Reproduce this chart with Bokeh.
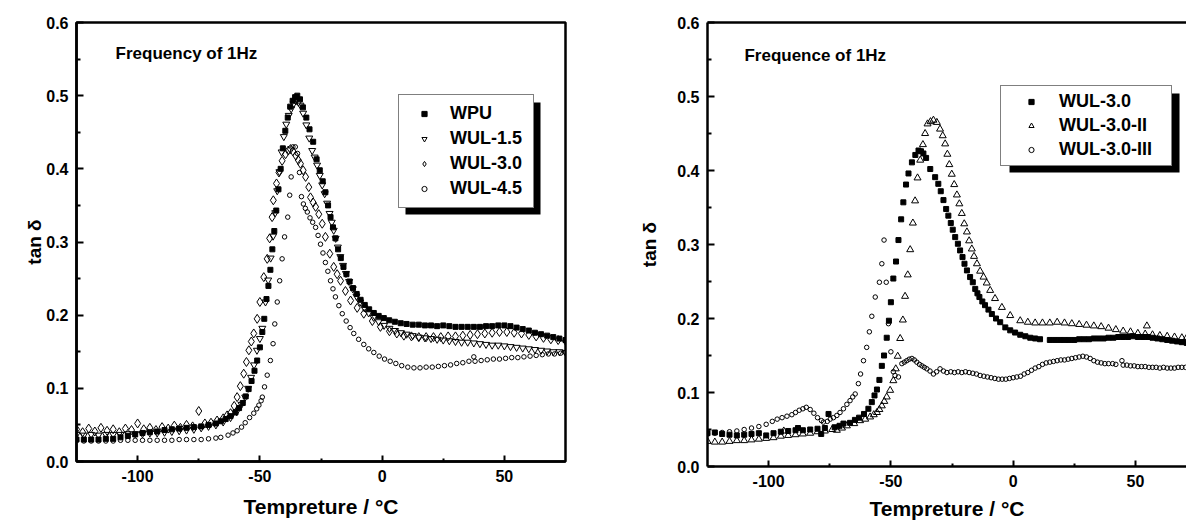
from bokeh.plotting import figure
from bokeh.models import (Range1d, FixedTicker, PrintfTickFormatter, Legend, LegendItem,
                          BoxAnnotation, Label, LinearAxis)
from bokeh.layouts import row, column
from bokeh.embed import file_html
from bokeh.resources import INLINE

FONT = "Liberation Sans"

# ---------------- data (temperature °C, tan delta) ----------------
# left panel
wpu = [(-125,.030),(-122,.030),(-119,.030),(-116,.030),(-113,.031),(-110,.031),(-107,.033),(-104,.035),
       (-101,.037),(-98,.039),(-95,.040),(-92,.041),(-89,.043),(-86,.044),(-83,.045),(-80,.046),(-77,.047),
       (-74,.048),(-71,.050),(-68,.052),(-66,.055),(-64,.058),(-62,.062),(-60,.067),(-58.5,.073),(-57,.080),
       (-55.8,.089),(-54.6,.099),(-53.4,.110),(-52.2,.124),(-51.1,.138),(-50.0,.156),(-49.0,.177),(-48.2,.195),
       (-47.3,.222),(-46.5,.240),(-45.7,.262),(-44.9,.290),(-44.1,.315),(-43.3,.343),(-42.4,.372),(-41.5,.400),
       (-40.6,.428),(-39.6,.452),(-38.6,.470),(-37.6,.485),(-36.6,.493),(-35.6,.498),(-34.7,.500),(-33.6,.495),
       (-32.4,.484),(-31.0,.470),(-29.7,.454),(-28.2,.437),(-26.8,.413),(-25.5,.398),(-24.3,.383),(-23.2,.368),
       (-22.1,.350),(-21.1,.334),(-20.1,.320),(-19.1,.305),(-18.0,.290),(-16.9,.278),(-15.8,.266),(-14.6,.256),
       (-13.3,.246),(-11.9,.237),(-10.4,.229),(-8.8,.221),(-7.1,.214),(-5.3,.208),(-3.4,.203),(-1.4,.199),
       (0.7,.196),(2.9,.193),(5.2,.191),(7.6,.189),(10,.188),(12.5,.187),(15,.187),(17.5,.186),(20,.186),
       (22.5,.185),(25,.186),(27.5,.185),(30,.184),(32.5,.184),(35,.184),(37.5,.184),(40,.184),(42.5,.185),
       (45,.185),(47.5,.186),(50,.186),(52.5,.185),(55,.183),(57.5,.181),(60,.179),(62.5,.176),(65,.174),
       (67.5,.172),(70,.170),(72.5,.168),(75,.166)]

wul15 = [(-125,.037),(-122,.036),(-119,.037),(-116,.036),(-113,.037),(-110,.037),(-107,.037),(-104,.038),
         (-101,.038),(-98,.038),(-95,.039),(-92,.039),(-89,.040),(-86,.041),(-83,.042),(-80,.043),(-77,.044),
         (-74,.046),(-71,.048),(-68,.050),(-65,.054),(-62,.060),(-59.5,.068),(-57.5,.078),(-56,.088),(-54.8,.100),
         (-53.6,.115),(-52.4,.132),(-51.2,.152),(-50.0,.168),(-49.0,.182),(-47.7,.218),(-46.6,.248),(-45.6,.278),
         (-44.6,.308),(-43.7,.340),(-42.9,.370),(-42.0,.396),(-41.1,.423),(-40.2,.444),(-39.2,.461),(-38.2,.473),
         (-37.2,.482),(-36.2,.489),(-35.2,.493),(-34.2,.491),(-33.4,.487),(-32.3,.476),(-31.0,.460),(-29.8,.442),
         (-28.6,.425),(-27.6,.416),(-26.6,.405),(-25.5,.391),(-24.5,.378),(-23.5,.366),(-22.5,.353),(-21.5,.339),
         (-20.6,.327),(-19.8,.316),(-19.0,.305),(-18.1,.293),(-17.1,.280),(-16.0,.268),(-14.8,.257),(-13.5,.246),
         (-12.0,.236),(-10.5,.226),(-9.0,.218),(-7.3,.210),(-5.5,.203),(-3.5,.197),(-1.4,.191),(0.8,.186),
         (3,.182),(5.3,.179),(7.7,.176),(10,.174),(12.5,.172),(15,.170),(17.5,.169),(20,.168),(22.5,.167),
         (25,.166),(27.5,.165),(30,.164),(32.5,.163),(35,.163),(37.5,.162),(40,.161),(42.5,.160),(45,.159),
         (47.5,.159),(50,.158),(52.5,.157),(55,.156),(57.5,.155),(60,.154),(62.5,.153),(65,.152),(67.5,.151),
         (70,.150),(72.5,.150),(75,.149)]

wul30 = [(-125,.044),(-122.5,.040),(-120,.045),(-117.5,.041),(-115,.046),(-112.5,.042),(-110,.044),(-107.5,.040),
         (-105,.045),(-102.5,.043),(-100,.052),(-97.5,.044),(-95,.046),(-92.5,.043),(-90,.047),(-87.5,.045),
         (-85,.049),(-82.5,.046),(-80,.050),(-77.5,.048),(-75,.069),(-72.5,.052),(-70,.053),(-67.5,.056),
         (-65,.059),(-63.4,.063),(-62,.066),(-60.5,.076),(-59.3,.088),(-58,.103),(-56.6,.120),(-55.5,.136),
         (-54.5,.152),(-53.5,.164),(-52.5,.175),(-51.1,.195),(-50,.218),(-48.4,.252),(-47,.277),(-46,.305),
         (-45,.334),(-44.5,.357),(-43.2,.380),(-42.2,.395),(-40.9,.411),(-39.5,.420),(-38.4,.425),(-37.5,.427),
         (-36.5,.424),(-35.3,.418),(-34.3,.412),(-33.4,.407),(-32.3,.398),(-31.3,.389),(-30.0,.375),(-29.3,.361),
         (-28.2,.354),(-27.2,.348),(-25.9,.338),(-24.5,.325),(-23.2,.307),(-21.4,.284),(-19.8,.266),(-18.4,.256),
         (-17.0,.247),(-15.0,.233),(-12.9,.220),(-10.2,.210),(-7.5,.202),(-4.0,.192),(-0.7,.184),(3,.178),
         (6,.175),(8.9,.172),(12,.171),(15,.170),(18,.170),(21,.170),(24,.170),(27,.171),(30,.171),(33,.172),
         (36,.173),(39,.174),(42,.175),(45,.176),(48,.177),(51,.177),(54,.176),(57,.175),(60,.173),(63,.171),
         (66,.169),(69,.167),(72,.166),(75,.165)]

wul45 = [(-125,.029),(-122,.028),(-119,.028),(-116,.028),(-113,.028),(-110,.028),(-107,.029),(-104,.029),
         (-101,.029),(-98,.029),(-95,.029),(-92,.029),(-89,.029),(-86,.029),(-83,.030),(-80,.030),(-77,.030),
         (-74,.030),(-71,.031),(-68,.032),(-66,.033),(-63,.036),(-61,.039),(-59.3,.042),(-57.5,.047),(-56,.053),
         (-54.2,.060),(-52.5,.066),(-51.3,.072),(-50.4,.077),(-49.5,.083),(-49.0,.088),(-48.1,.102),(-47.0,.118),
         (-45.7,.138),(-44.6,.161),(-43.9,.188),(-42.9,.218),(-41.9,.247),(-40.9,.277),(-39.9,.307),(-38.6,.334),
         (-37.8,.364),(-37.2,.389),(-36.5,.430),(-35.5,.430),(-34.6,.421),(-33.8,.395),(-33.0,.362),(-32.2,.352),
         (-31.4,.346),(-30.6,.341),(-29.5,.333),(-28.4,.327),(-27.2,.320),(-26.2,.309),(-25.2,.297),(-24.2,.285),
         (-23.2,.272),(-22.2,.260),(-21.1,.247),(-20.1,.236),(-19.1,.225),(-17.7,.213),(-16.3,.202),(-14.7,.192),
         (-13.1,.183),(-11.6,.175),(-9.6,.167),(-7.5,.160),(-5.5,.154),(-3.4,.149),(-1.2,.144),(1,.140),
         (3.3,.137),(5.6,.134),(8,.131),(10.5,.129),(13,.128),(15.5,.128),(18,.129),(20.5,.129),(23,.130),
         (25.5,.131),(28,.132),(30.5,.134),(33,.135),(35.5,.137),(37.5,.143),(38,.137),(40.5,.138),(43,.139),
         (45.5,.140),(48,.140),(50.5,.141),(53,.142),(55.5,.142),(58,.143),(60.5,.144),(63,.145),(65.5,.146),
         (68,.147),(70.5,.147),(73,.148),(75,.149)]

# right panel
r_wul30 = [(-125,.045),(-122,.046),(-119,.044),(-116,.043),(-113,.042),(-110,.043),(-107,.044),(-104,.045),
           (-101,.042),(-98,.045),(-95,.047),(-92,.048),(-89,.049),(-88,.052),(-86,.049),(-83,.050),(-80,.051),
           (-78.5,.044),(-77,.052),(-75.5,.071),(-73,.053),(-71,.055),(-69.4,.058),(-66.7,.059),(-64.7,.063),
           (-63,.066),(-61,.071),(-59.2,.078),(-57.8,.087),(-56.7,.096),(-55.7,.104),(-54.7,.117),(-53.7,.136),
           (-52.8,.150),(-51.7,.174),(-50.8,.197),(-50.0,.222),(-49.0,.254),(-47.9,.277),(-46.9,.306),(-45.8,.334),
           (-44.9,.357),(-43.8,.381),(-42.8,.396),(-41.4,.411),(-40.0,.421),(-38.7,.427),(-37.7,.426),(-36.7,.423),
           (-35.6,.417),(-33.9,.402),(-31.9,.391),(-30.6,.382),(-29.6,.372),(-28.5,.360),(-27.4,.348),(-26.5,.339),
           (-25.5,.329),(-24.7,.320),(-23.7,.310),(-22.6,.301),(-21.7,.292),(-20.7,.283),(-19.9,.274),(-18.9,.265),
           (-17.6,.256),(-16.5,.249),(-15.5,.240),(-14.6,.234),(-13.8,.229),(-12.6,.223),(-11.5,.218),(-10.1,.212),
           (-8.7,.206),(-7.0,.200),(-5.3,.195),(-3.2,.188),(-1.2,.184),(0.8,.181),(2.9,.178),(5,.176),(7,.174),
           (9,.173),(11,.172),(15,.171),(17,.171),(19,.171),(21,.171),(23,.171),(25,.171),(27,.172),(29,.172),
           (31,.172),(33,.173),(35,.173),(37,.173),(39,.174),(41,.174),(43,.175),(45,.175),(47,.175),(49,.176),
           (51,.175),(53,.175),(55,.175),(57,.174),(59,.173),(61,.172),(63,.171),(65,.170),(67,.169),(69,.168),
           (71,.167)]

r_wul30ii = [(-125,.034),(-122,.033),(-119,.033),(-116,.034),(-113,.035),(-110,.035),(-107,.036),(-104,.037),
             (-101,.038),(-98,.039),(-95,.041),(-93.8,.048),(-92,.042),(-89,.043),(-86,.044),(-83,.045),(-80,.047),
             (-77,.048),(-74,.050),(-72.1,.049),(-70,.052),(-68,.055),(-65,.058),(-62.6,.062),(-60.5,.064),
             (-58.5,.067),(-57,.070),(-55.7,.073),(-54.7,.077),(-53.7,.082),(-52.7,.088),(-51.7,.094),(-50.3,.103),
             (-49.0,.116),(-48.0,.132),(-47.2,.149),(-46.2,.173),(-45.1,.198),(-44.2,.230),(-43.1,.259),(-42.1,.293),
             (-41.0,.329),(-40.1,.359),(-39.1,.390),(-38.0,.414),(-36.9,.435),(-36.0,.450),(-35.0,.463),(-33.8,.466),
             (-32.6,.468),(-31.2,.465),(-29.9,.456),(-28.8,.447),(-27.8,.436),(-26.9,.422),(-26.1,.408),(-25.1,.395),
             (-24.1,.381),(-23.0,.367),(-22.0,.355),(-21.0,.342),(-20.0,.328),(-18.9,.317),(-18.0,.305),(-16.9,.294),
             (-16.0,.284),(-14.8,.274),(-13.5,.264),(-12.1,.256),(-10.8,.248),(-9.4,.238),(-7.4,.227),(-4.6,.215),
             (-1.2,.204),(2.9,.197),(6,.195),(9,.194),(12,.194),(15,.194),(18,.195),(21,.194),(24,.193),(27,.192),
             (30,.191),(33,.190),(36,.189),(39,.187),(42,.185),(45,.183),(48,.182),(51,.180),(54,.179),(54.7,.190),
             (57,.178),(60,.177),(63,.176),(66,.175),(69,.174),(71,.174)]

r_wul30iii = [(-125,.044),(-122,.045),(-119,.046),(-116,.047),(-113,.048),(-110,.050),(-107,.052),(-104,.054),
              (-101,.057),(-98.5,.061),(-96.5,.064),(-94.5,.066),(-92.5,.068),(-90.5,.070),(-89,.073),(-87.5,.076),
              (-86,.078),(-84.6,.080),(-83,.077),(-81.5,.072),(-80,.066),(-78.4,.062),(-77.6,.060),(-76,.061),
              (-74.8,.064),(-73.5,.066),(-72.1,.069),(-70.8,.073),(-69.4,.078),(-68,.084),(-66.7,.089),(-65.6,.094),
              (-64.6,.098),(-63.3,.112),(-62.4,.125),(-61.2,.143),(-59.9,.161),(-58.8,.182),(-57.8,.203),(-56.4,.229),
              (-54.7,.249),(-53.7,.274),(-52.8,.306),(-51.9,.249),(-51.0,.193),(-50.0,.155),(-49.0,.128),(-48.3,.123),
              (-46.9,.121),(-45.5,.139),(-44.5,.141),(-43.5,.143),(-42.5,.145),(-41.4,.146),(-40.4,.144),(-39.4,.141),
              (-38.3,.138),(-37.3,.136),(-36.3,.134),(-35.3,.132),(-34.0,.129),(-32.6,.125),(-31.3,.128),(-29.9,.132),
              (-28.5,.129),(-27.1,.127),(-25.5,.128),(-24,.127),(-22.5,.128),(-21,.127),(-19.5,.128),(-18,.127),
              (-16.5,.126),(-15,.125),(-13.5,.123),(-12,.122),(-10.5,.121),(-9,.120),(-7.5,.119),(-6,.118),
              (-4.5,.118),(-3,.118),(-1.5,.119),(0,.120),(1.5,.121),(3,.122),(4.5,.125),(6,.127),(7.5,.130),
              (9,.133),(10.5,.135),(12,.138),(13.5,.140),(15,.141),(16.5,.142),(18,.143),(19.5,.144),(21,.144),
              (22.5,.145),(24,.146),(25.5,.147),(27,.148),(28.5,.149),(30,.148),(31.5,.146),(33,.143),(34.5,.141),
              (36,.140),(37.5,.139),(39,.139),(40.7,.139),(42,.138),(44.5,.143),(45,.137),(46.5,.137),(48,.136),
              (49.5,.136),(51,.135),(52.5,.135),(54,.135),(55.5,.134),(57,.134),(58.5,.134),(60,.133),(61.5,.134),
              (63,.133),(64.5,.133),(66,.133),(67.5,.134),(69,.134),(70.5,.134)]

x_major = [-100, -50, 0, 50]
x_minor = [-75, -25, 25]
y_major = [0.0, 0.1, 0.2, 0.3, 0.4, 0.5, 0.6]
y_minor = [0.05, 0.15, 0.25, 0.35, 0.45, 0.55]

left_names = ["WPU", "WUL-1.5", "WUL-3.0", "WUL-4.5"]
right_names = ["WUL-3.0", "WUL-3.0-II", "WUL-3.0-III"]
x_title = "Tempreture / °C"
y_title = "tan δ"


def unzip(pairs):
    return [a for a, _ in pairs], [b for _, b in pairs]


FIG_H = 522
TOP = 22


def make_fig(width, bl, br, bb, x_end, lab_standoff, xlab_standoff):
    p = figure(width=width, height=FIG_H, x_range=Range1d(-125, x_end), y_range=Range1d(0, 0.6),
               output_backend="svg", toolbar_location=None,
               min_border=0, min_border_left=bl, min_border_right=br,
               min_border_top=TOP, min_border_bottom=bb)
    p.grid.visible = False
    p.background_fill_color = "white"
    p.border_fill_color = "white"
    p.xaxis.ticker = FixedTicker(ticks=x_major, minor_ticks=x_minor)
    p.yaxis.ticker = FixedTicker(ticks=y_major, minor_ticks=y_minor)
    p.yaxis.formatter = PrintfTickFormatter(format="%.1f")
    p.xaxis.formatter = PrintfTickFormatter(format="%d")
    for ax in (p.xaxis[0], p.yaxis[0]):
        ax.axis_line_width = 2.5
        ax.axis_line_color = "black"
        ax.major_tick_line_width = 2
        ax.minor_tick_line_width = 2
        ax.major_tick_out = 0
        ax.minor_tick_out = 0
        ax.major_label_text_font = FONT
        ax.major_label_text_font_style = "bold"
        ax.major_label_text_font_size = "16px"
        ax.major_label_text_color = "black"
        ax.axis_label_text_font = FONT
        ax.axis_label_text_font_style = "bold"
        ax.axis_label_text_color = "black"
    p.xaxis.major_tick_in = 6
    p.xaxis.minor_tick_in = 3
    p.yaxis.major_tick_in = 7
    p.yaxis.minor_tick_in = 4
    p.xaxis.major_label_standoff = 8
    p.yaxis.major_label_standoff = 8
    p.xaxis.axis_label = x_title
    p.xaxis.axis_label_text_font_size = "21px"
    p.xaxis.axis_label_standoff = xlab_standoff
    p.yaxis.axis_label = y_title
    p.yaxis.axis_label_text_font_size = "19px"
    p.yaxis.axis_label_standoff = lab_standoff
    return p


def add_legend(p, renderers, names, loc, pad, gw, gh, rh, sp, standoff, lw, shadow_px, frame_px):
    # frame_px: (frame_left_px, frame_bottom_px, px_per_x, px_per_y, x0)
    fl, fb, sx, sy, x0 = frame_px
    sl, sr, st, sbm = shadow_px
    shadow = BoxAnnotation(left=x0 + (sl - fl) / sx, right=x0 + (sr - fl) / sx,
                           top=(fb - st) / sy, bottom=(fb - sbm) / sy,
                           fill_color="black", fill_alpha=1.0, line_color=None)
    p.add_layout(shadow)
    leg = Legend(items=[LegendItem(label=n, renderers=[r]) for n, r in zip(names, renderers)],
                 location=loc, margin=0, padding=pad, spacing=sp,
                 glyph_width=gw, glyph_height=gh, label_height=rh, label_width=lw,
                 label_standoff=standoff,
                 label_text_font=FONT, label_text_font_style="bold", label_text_font_size="18px",
                 label_text_color="black", label_text_baseline="middle",
                 border_line_color="black", border_line_width=1,
                 background_fill_color="white", background_fill_alpha=1.0)
    p.add_layout(leg)


# ---------------- left panel ----------------
p1 = make_fig(636, 76, 71, 61, 75, -2, 10)
p1.outline_line_color = "black"
p1.outline_line_width = 2.5

x, y = unzip(wpu)
r1 = p1.scatter(x, y, marker="square", size=5, fill_color="black", line_color="black")
x, y = unzip(wul15)
r2 = p1.scatter(x, y, marker="inverted_triangle", size=7, fill_color=None, line_color="black", line_width=1)
x, y = unzip(wul30)
r3 = p1.scatter(x, y, marker="diamond", size=9, fill_color=None, line_color="black", line_width=1)
x, y = unzip(wul45)
r4 = p1.scatter(x, y, marker="circle", size=4.5, fill_color=None, line_color="black", line_width=1)

p1.add_layout(Label(x=-109.0, y=0.5576, text="Frequency of 1Hz", text_font=FONT,
                    text_font_style="bold", text_font_size="17px", text_color="black",
                    text_baseline="alphabetic"))

# legend box ~400..534 x 96..208 (image px), shadow offset 5/6
add_legend(p1, [r1, r2, r3, r4], left_names, (322, 253), 8, 34, 13, 21, 4, 9, 75,
           (405, 540, 102, 214), (76, 461, 2.445, 731.67, -125))

# ---------------- right panel ----------------
p2 = make_fig(550, 71, 0, 56, 70.9, 14, 7)
p2.outline_line_color = None
top_ax = LinearAxis(ticker=FixedTicker(ticks=[]), axis_line_width=2.5, axis_line_color="black",
                    major_tick_in=0, major_tick_out=0, minor_tick_in=0, minor_tick_out=0,
                    major_label_text_font_size="0px")
p2.add_layout(top_ax, "above")

x, y = unzip(r_wul30)
q1 = p2.scatter(x, y, marker="square", size=5, fill_color="black", line_color="black")
x, y = unzip(r_wul30ii)
q2 = p2.scatter(x, y, marker="triangle", size=7, fill_color=None, line_color="black", line_width=1)
x, y = unzip(r_wul30iii)
q3 = p2.scatter(x, y, marker="circle", size=4.5, fill_color=None, line_color="black", line_width=1)

p2.add_layout(Label(x=-109.9, y=0.5554, text="Frequence of 1Hz", text_font=FONT,
                    text_font_style="bold", text_font_size="17px", text_color="black",
                    text_baseline="alphabetic"))

# legend box ~1003..1173 x 87..166, shadow offset 6/5
add_legend(p2, [q1, q2, q3], right_names, (293, 300), 5, 50, 13, 21, 3, 3, 107,
           (1009, 1179, 93, 172), (707, 466, 2.445, 740.0, -125))

# each panel in its own column so that the two frames are not forced to share borders
layout = row(column(p1), column(p2))
open("out.html", "w").write(file_html(layout, INLINE))
